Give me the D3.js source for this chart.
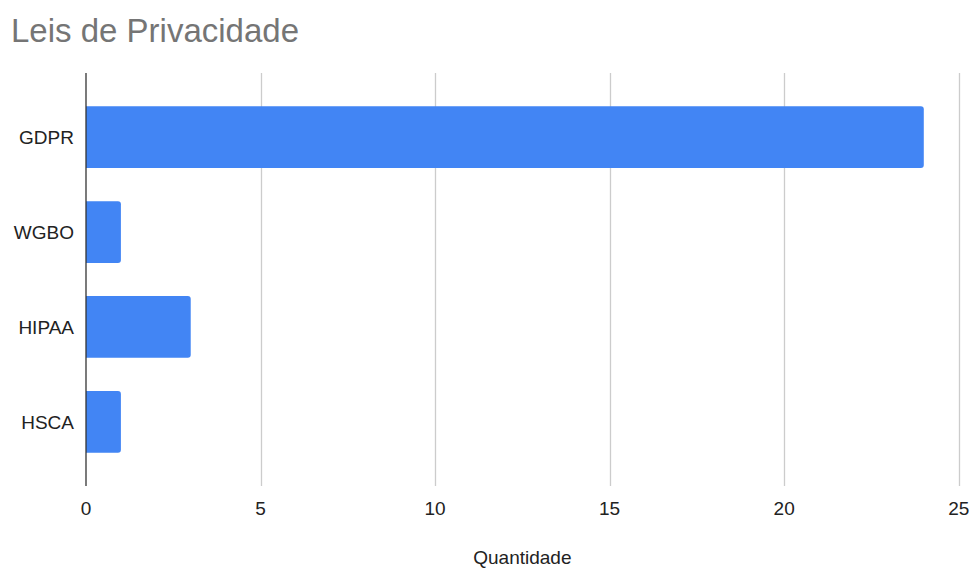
<!DOCTYPE html>
<html>
<head>
<meta charset="utf-8">
<script src="https://cdn.jsdelivr.net/npm/d3@7"></script>
<style>
  body { margin: 0; background: #fff; }
  text { font-family: "Liberation Sans", Arial, sans-serif; }
</style>
</head>
<body>
<script>
// data
var laws = ["GDPR", "WGBO", "HIPAA", "HSCA"];
var counts = [24, 1, 3, 1];
var xTicks = [0, 5, 10, 15, 20, 25];

var width = 971,
    height = 569;

var plot = { left: 86, right: 958.7, top: 73, bottom: 486 };

var svg = d3.select("body")
    .append("svg")
    .attr("width", width)
    .attr("height", height);

var x = d3.scaleLinear()
    .domain([0, 25])
    .range([plot.left, plot.right]);

var y = d3.scaleBand()
    .domain(laws)
    .range([plot.top, plot.bottom])
    .padding(0.35);

// title
svg.append("text")
    .attr("x", 11)
    .attr("y", 42)
    .attr("fill", "#757575")
    .style("font-size", "33px")
    .text("Leis de Privacidade");

// gridlines
svg.append("g")
    .selectAll("line")
    .data(xTicks.filter(d => d != 0))
    .enter()
    .append("line")
        .attr("x1", d => Math.round(x(d)) + 0.5)
        .attr("x2", d => Math.round(x(d)) + 0.5)
        .attr("y1", plot.top)
        .attr("y2", plot.bottom)
        .attr("stroke", "#cccccc")
        .attr("stroke-width", 1.3);

// bars
var data = laws.map((d, i) => ({ law: d, value: counts[i] }));

svg.append("g")
    .selectAll("path")
    .data(data)
    .enter()
    .append("path")
        .attr("fill", "#4285f4")
        .attr("d", function (d) {
            var x0 = x(0), x1 = x(d.value), y0 = y(d.law), h = y.bandwidth(), r = 3;
            return "M" + x0 + "," + y0 +
                "H" + (x1 - r) + "Q" + x1 + "," + y0 + " " + x1 + "," + (y0 + r) +
                "V" + (y0 + h - r) + "Q" + x1 + "," + (y0 + h) + " " + (x1 - r) + "," + (y0 + h) +
                "H" + x0 + "Z";
        });

// zero baseline
svg.append("line")
    .attr("x1", x(0))
    .attr("x2", x(0))
    .attr("y1", plot.top)
    .attr("y2", plot.bottom)
    .attr("stroke", "#333333")
    .attr("stroke-width", 1.3);

// category labels
svg.append("g")
    .selectAll("text")
    .data(laws)
    .enter()
    .append("text")
        .attr("x", 74)
        .attr("y", d => y(d) + y.bandwidth() / 2)
        .attr("dy", "0.35em")
        .attr("text-anchor", "end")
        .attr("fill", "#222222")
        .style("font-size", "19px")
        .text(d => d);

// tick labels
svg.append("g")
    .selectAll("text")
    .data(xTicks)
    .enter()
    .append("text")
        .attr("x", d => x(d))
        .attr("y", 515)
        .attr("text-anchor", "middle")
        .attr("fill", "#222222")
        .style("font-size", "19px")
        .text(d => d);

// axis title
svg.append("text")
    .attr("x", (plot.left + plot.right) / 2)
    .attr("y", 564)
    .attr("text-anchor", "middle")
    .attr("fill", "#222222")
    .style("font-size", "19px")
    .text("Quantidade");
</script>
</body>
</html>
